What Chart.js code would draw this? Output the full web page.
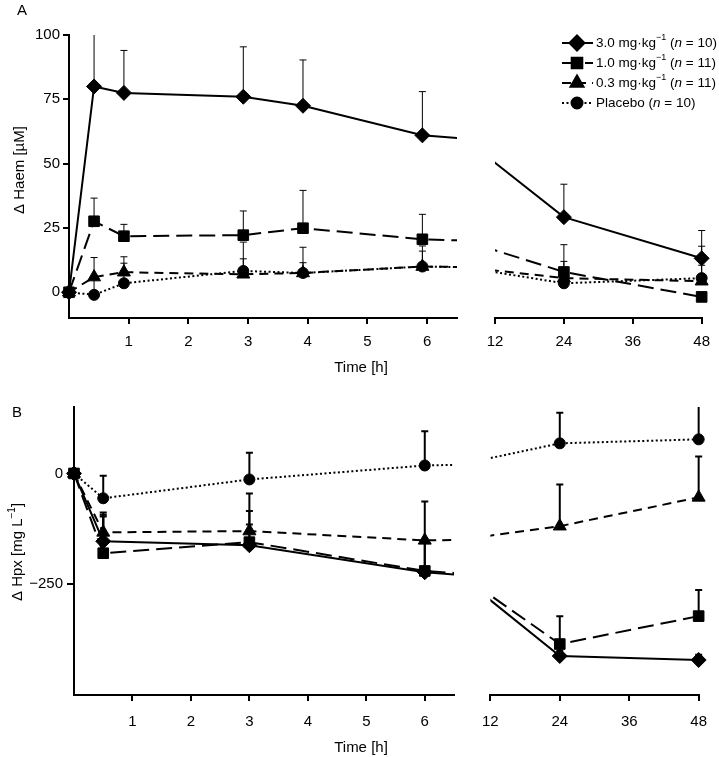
<!DOCTYPE html>
<html>
<head>
<meta charset="utf-8">
<script src="https://cdn.jsdelivr.net/npm/chart.js@4.4.1/dist/chart.umd.min.js"></script>
<style>
  body { margin: 0; background: #fff; }
  #wrap { position: relative; width: 719px; height: 757px; }
  canvas { position: absolute; }
</style>
</head>
<body>
<div id="wrap">
  <canvas id="aLeft" width="475" height="390" style="left:0;top:0"></canvas>
  <canvas id="aRight" width="244" height="390" style="left:475px;top:0"></canvas>
  <canvas id="bLeft" width="470" height="367" style="left:0;top:390px"></canvas>
  <canvas id="bRight" width="249" height="367" style="left:470px;top:390px"></canvas>
</div>
<script>
// groups (legend order)
const doses = ['3.0', '1.0', '0.3', 'Placebo'];
const groupN = [10, 11, 11, 10];

// panel A: change in haem (µM), mean and upper SD
const timesA = [0, 0.42, 0.92, 2.92, 3.92, 5.92, 24, 48];
const haem30 = [0, 80, 77.5, 76, 72.5, 61, 29.2, 13.2];
const haem30Sd = [0, 24, 16.5, 19.4, 17.8, 17, 12.8, 10.8];
const haem10 = [0, 27.6, 21.8, 22.2, 24.9, 20.6, 7.9, -1.8];
const haem10Sd = [0, 9, 4.6, 9.4, 14.7, 9.7, 10.6, 0];
const haem03 = [0, 5.9, 7.8, 7, 7.5, 10, 5.5, 4.3];
const haem03Sd = [0, 7.6, 6, 6, 4, 8, 6.5, 13.6];
const haemPl = [0, -1, 3.5, 8.3, 7.5, 10, 3.5, 5.5];
const haemPlSd = [0, 6, 7.8, 11.2, 10, 6, 4, 5];

// panel B: change in haemopexin (mg/L)
const timesB = [0, 0.5, 3, 6, 24, 48];
const hpx30 = [0, -153, -162, -223, -412, -421];
const hpx30Sd = [0, 60, 77, 75, 12, 12];
const hpx10 = [0, -180, -155, -220, -385, -322];
const hpx10Sd = [0, 83, 40, 65, 63, 59];
const hpx03 = [0, -133, -130, -151, -119, -54];
const hpx03Sd = [0, 45, 85, 88, 94, 92];
const hpxPl = [0, -56, -13.5, 18, 68, 77];
const hpxPlSd = [0, 51, 60, 77, 69, 80];

// axis ticks
const ticksEarly = [1, 2, 3, 4, 5, 6];
const ticksLate = [12, 24, 36, 48];
const ticksHaem = [0, 25, 50, 75, 100];
const ticksHpx = [-250, 0];

const FAM = "'Liberation Sans', Arial, Helvetica, sans-serif";
Chart.defaults.font.family = FAM;
Chart.defaults.color = '#000';

const marks = ['rectRot', 'rect', 'triangle', 'circle'];
const sizes = [7.5, 7.5, 7.5, 5.5];
const dashes = [[], [16, 7], [9, 6], [2, 2.5]];

function drawRich(ctx, parts, size, align) {
  const fontOf = p => (p.it ? 'italic ' : '') + (p.sup ? Math.round(size * 0.65) : size) + 'px ' + FAM;
  let w = 0;
  parts.forEach(p => { ctx.font = fontOf(p); w += ctx.measureText(p.t).width; });
  let cx = align === 'left' ? 0 : -w / 2;
  ctx.fillStyle = '#000';
  ctx.textBaseline = 'middle';
  ctx.textAlign = 'left';
  parts.forEach(p => {
    ctx.font = fontOf(p);
    ctx.fillText(p.t, cx, p.sup ? -size * 0.38 : 0);
    cx += ctx.measureText(p.t).width;
  });
}

const errorBars = {
  id: 'errorBars',
  beforeDatasetsDraw(chart, args, o) {
    const { ctx, chartArea: a, scales: { x, y } } = chart;
    ctx.save();
    ctx.beginPath();
    ctx.rect(a.left - 10, a.top, a.right - a.left + 20, a.bottom - a.top);
    ctx.clip();
    ctx.strokeStyle = '#000';
    ctx.lineWidth = o.width;
    chart.data.datasets.forEach(ds => {
      ds.data.forEach((p, j) => {
        const sd = ds.errors[j];
        if (!sd || p.x < x.min || p.x > x.max) return;
        const px = x.getPixelForValue(p.x);
        const y0 = y.getPixelForValue(p.y);
        const y1 = y.getPixelForValue(p.y + sd);
        ctx.beginPath();
        ctx.moveTo(px, y0);
        ctx.lineTo(px, y1);
        ctx.moveTo(px - o.cap, y1);
        ctx.lineTo(px + o.cap, y1);
        ctx.stroke();
      });
    });
    ctx.restore();
  }
};

const texts = {
  id: 'texts',
  afterDraw(chart, args, o) {
    const ctx = chart.ctx;
    (o.items || []).forEach(it => {
      ctx.save();
      ctx.translate(it.x, it.y);
      if (it.rot) ctx.rotate(it.rot);
      drawRich(ctx, it.parts, it.size || 15, it.align);
      ctx.restore();
    });
  }
};

const doseLegend = {
  id: 'doseLegend',
  afterDraw(chart, args, o) {
    if (!o.show) return;
    const ctx = chart.ctx;
    doses.forEach((d, i) => {
      const y = o.y0 + i * o.step;
      ctx.save();
      ctx.strokeStyle = '#000';
      ctx.lineWidth = 2;
      ctx.setLineDash(dashes[i]);
      ctx.beginPath();
      ctx.moveTo(o.x0, y);
      ctx.lineTo(o.x0 + 31, y);
      ctx.stroke();
      ctx.setLineDash([]);
      ctx.fillStyle = '#000';
      Chart.helpers.drawPoint(ctx, { pointStyle: marks[i], radius: sizes[i], rotation: 0, borderWidth: 1 }, o.x0 + 15, y);
      ctx.translate(o.x0 + 34, y);
      const parts = d === 'Placebo'
        ? [{ t: 'Placebo (' }, { t: 'n', it: 1 }, { t: ' = ' + groupN[i] + ')' }]
        : [{ t: d + ' mg·kg' }, { t: '−1', sup: 1 }, { t: ' (' }, { t: 'n', it: 1 }, { t: ' = ' + groupN[i] + ')' }];
      drawRich(ctx, parts, 13.5, 'left');
      ctx.restore();
    });
  }
};

function makeChart(id, cfg) {
  return new Chart(document.getElementById(id), {
    type: 'line',
    data: {
      datasets: cfg.series.map((s, i) => ({
        label: doses[i],
        data: cfg.times.map((t, j) => ({ x: t, y: s[j] })),
        errors: cfg.errs[i],
        borderColor: '#000',
        backgroundColor: '#000',
        borderWidth: 2,
        borderDash: dashes[i],
        borderCapStyle: 'butt',
        pointStyle: marks[i],
        pointRadius: sizes[i],
        pointBorderWidth: 1,
        pointBackgroundColor: '#000',
        pointBorderColor: '#000',
        tension: 0,
        clip: cfg.clip
      }))
    },
    options: {
      responsive: false,
      animation: false,
      devicePixelRatio: 1,
      layout: { padding: cfg.pad },
      plugins: {
        legend: { display: false },
        tooltip: { enabled: false },
        errorBars: { width: cfg.errWidth, cap: 3.5 },
        texts: { items: cfg.texts || [] },
        doseLegend: cfg.legend || { show: false }
      },
      scales: {
        x: {
          type: 'linear',
          min: cfg.xMin,
          max: cfg.xMax,
          afterBuildTicks: s => { s.ticks = cfg.xTicks.map(v => ({ value: v })); },
          afterFit: s => { s.height = 40; },
          grid: { drawOnChartArea: false, color: '#000', lineWidth: 2, tickLength: 6 },
          border: { color: '#000', width: 2 },
          ticks: { color: '#000', font: { size: 15 }, padding: cfg.xPad, maxRotation: 0, autoSkip: false }
        },
        y: {
          type: 'linear',
          display: cfg.showY,
          min: cfg.yMin,
          max: cfg.yMax,
          afterBuildTicks: s => { s.ticks = cfg.yTicks.map(v => ({ value: v })); },
          afterFit: s => { s.width = cfg.yWidth; },
          grid: { drawOnChartArea: false, color: '#000', lineWidth: 2, tickLength: cfg.yTick },
          border: { color: '#000', width: 2 },
          ticks: {
            color: '#000', font: { size: 15 }, padding: cfg.yPad, autoSkip: false,
            callback: v => String(v).replace('-', '\u2212')
          }
        }
      }
    },
    plugins: [errorBars, texts, doseLegend]
  });
}

const haemSeries = [haem30, haem10, haem03, haemPl];
const haemErrs = [haem30Sd, haem10Sd, haem03Sd, haemPlSd];
const hpxSeries = [hpx30, hpx10, hpx03, hpxPl];
const hpxErrs = [hpx30Sd, hpx10Sd, hpx03Sd, hpxPlSd];

const clipLeft = { left: 12, top: 12, right: 0, bottom: 12 };
const clipRight = { left: 0, top: 12, right: 12, bottom: 12 };

makeChart('aLeft', {
  times: timesA, series: haemSeries, errs: haemErrs, errWidth: 1,
  xMin: 0, xMax: 6.5, xTicks: ticksEarly, xPad: 9,
  yMin: -10, yMax: 100, yTicks: ticksHaem, showY: true, yWidth: 69, yTick: 6, yPad: 3,
  pad: { top: 35, left: 0, right: 18, bottom: 32 },
  clip: clipLeft,
  texts: [
    { x: 22, y: 11, parts: [{ t: 'A' }] },
    { x: 20, y: 170, rot: -Math.PI / 2, parts: [{ t: 'Δ Haem [µM]' }] },
    { x: 361, y: 368, parts: [{ t: 'Time [h]' }] }
  ]
});

makeChart('aRight', {
  times: timesA, series: haemSeries, errs: haemErrs, errWidth: 1,
  xMin: 12, xMax: 48, xTicks: ticksLate, xPad: 9,
  yMin: -10, yMax: 100, yTicks: ticksHaem, showY: false, yWidth: 0, yTick: 6, yPad: 3,
  pad: { top: 35, left: 20, right: 11, bottom: 32 },
  clip: clipRight,
  legend: { show: true, x0: 87, y0: 43, step: 20 }
});

makeChart('bLeft', {
  times: timesB, series: hpxSeries, errs: hpxErrs, errWidth: 2,
  xMin: 0, xMax: 6.5, xTicks: ticksEarly, xPad: 12,
  yMin: -500, yMax: 150, yTicks: ticksHpx, showY: true, yWidth: 74, yTick: 7, yPad: 4,
  pad: { top: 17, left: 0, right: 16, bottom: 22 },
  clip: clipLeft,
  texts: [
    { x: 17, y: 23, parts: [{ t: 'B' }] },
    { x: 18, y: 162, rot: -Math.PI / 2, parts: [{ t: 'Δ Hpx [mg L' }, { t: '−1', sup: 1 }, { t: ']' }] },
    { x: 361, y: 358, parts: [{ t: 'Time [h]' }] }
  ]
});

makeChart('bRight', {
  times: timesB, series: hpxSeries, errs: hpxErrs, errWidth: 2,
  xMin: 12, xMax: 48, xTicks: ticksLate, xPad: 12,
  yMin: -500, yMax: 150, yTicks: ticksHpx, showY: false, yWidth: 0, yTick: 7, yPad: 4,
  pad: { top: 17, left: 20, right: 19, bottom: 22 },
  clip: clipRight
});
</script>
</body>
</html>
